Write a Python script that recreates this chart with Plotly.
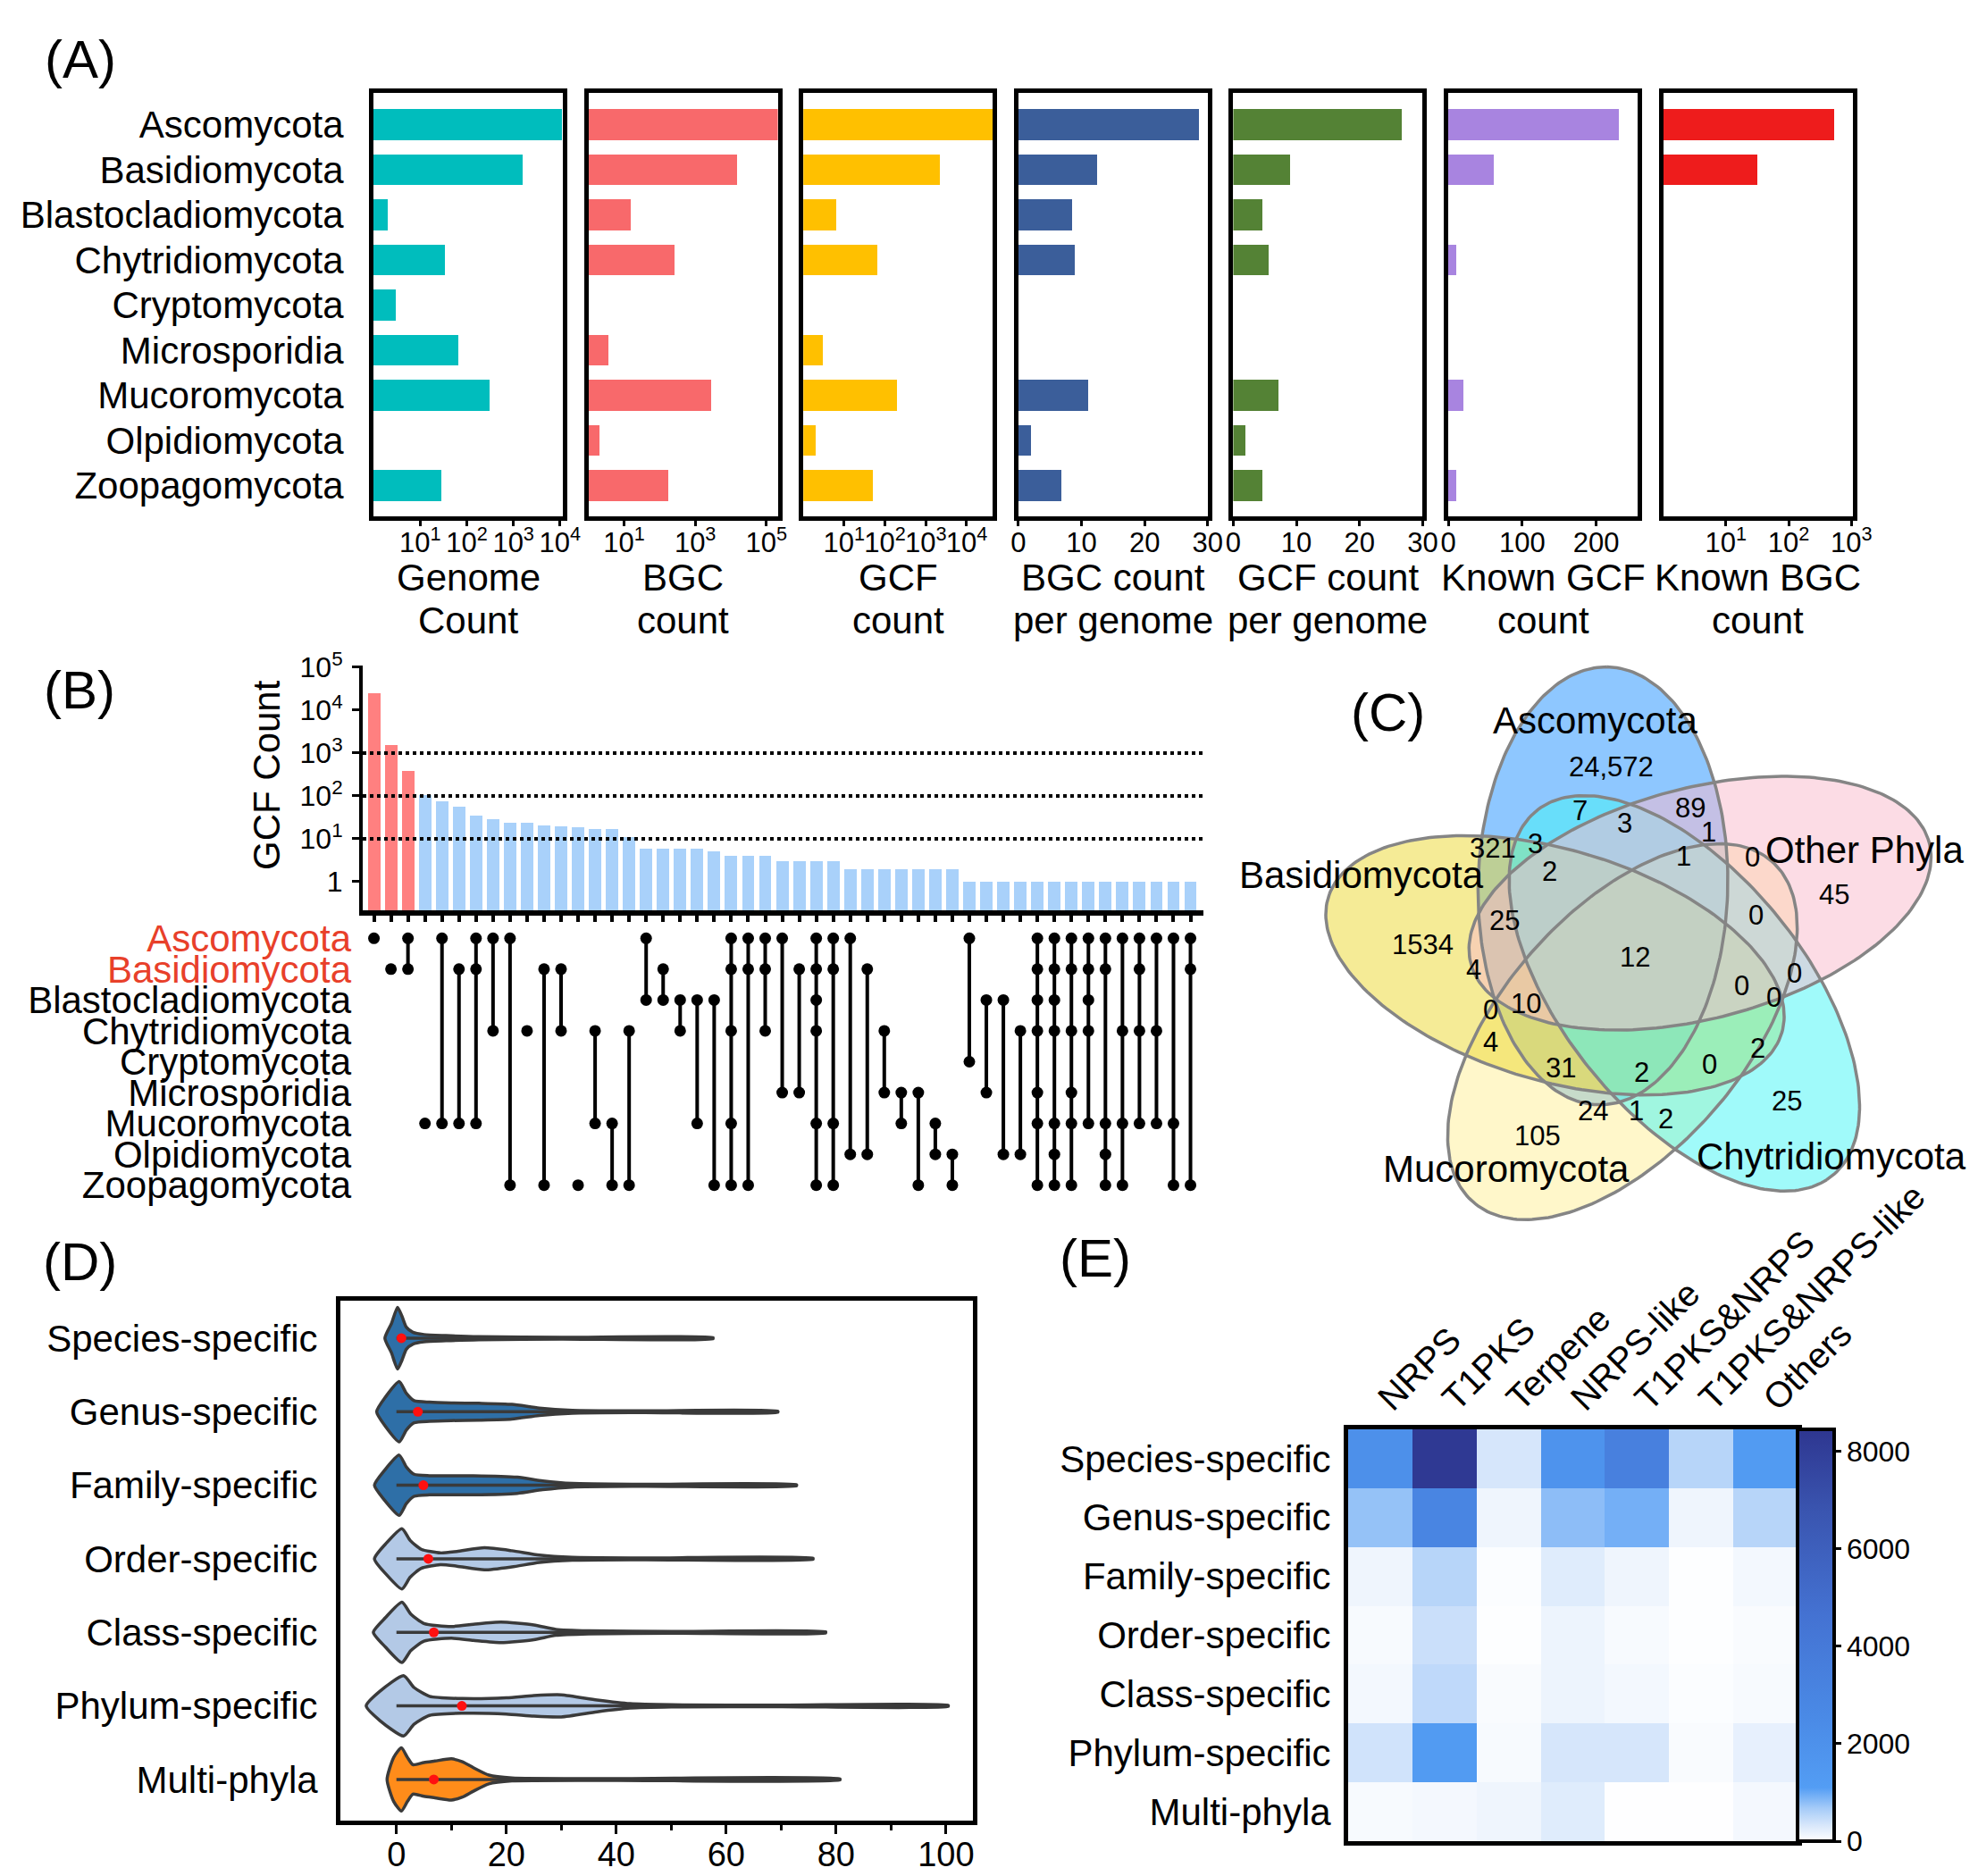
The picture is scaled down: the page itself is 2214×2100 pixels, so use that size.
import numpy as np
import plotly.graph_objects as go

W, H = 2214, 2100
FONT = "Liberation Sans, Arial, sans-serif"

# ---------------- data: panel A ----------------
phyla = ["Ascomycota", "Basidiomycota", "Blastocladiomycota", "Chytridiomycota",
         "Cryptomycota", "Microsporidia", "Mucoromycota", "Olpidiomycota", "Zoopagomycota"]
genome_count = [11000, 1550, 2, 34, 3, 65, 306, 1, 28]
bgc_count = [220000, 15000, 15, 260, None, 3.6, 2700, 2, 170]
gcf_count = [45000, 2200, 6.5, 64, None, 3, 200, 2, 50]
bgc_per_genome = [28.6, 12.4, 8.5, 8.9, 0, 0, 11.0, 2.0, 6.8]
gcf_per_genome = [26.8, 9.1, 4.6, 5.6, 0, 0, 7.2, 2.0, 4.7]
known_gcf_count = [231, 61, 0, 11, 0, 0, 21, 0, 11]
known_bgc_count = [520, 31, None, None, None, None, None, None, None]
a_titles = [["Genome", "Count"], ["BGC", "count"], ["GCF", "count"], ["BGC count", "per genome"],
            ["GCF count", "per genome"], ["Known GCF", "count"], ["Known BGC", "count"]]

# ---------------- data: panel B (upset) ----------------
upset_counts = [24572, 1534, 390, 105, 76, 56, 34, 29, 24, 24, 21, 20, 19, 17, 17, 11,
                6, 6, 6, 6, 5, 4, 4, 4, 3, 3, 3, 3, 2, 2, 2, 2, 2, 2, 2,
                1, 1, 1, 1, 1, 1, 1, 1, 1, 1, 1, 1, 1, 1]
upset_sets = [[0], [1], [0, 1], [6], [0, 6], [1, 6], [0, 1, 6], [0, 3], [0, 8], [3],
              [1, 8], [1, 3], [8], [3, 6], [6, 8], [3, 8], [0, 2], [1, 2], [2, 3], [2, 6],
              [2, 8], [0, 1, 3, 6, 8], [0, 1, 8], [0, 1, 3], [0, 5], [1, 5], [0, 1, 2, 3, 6, 8],
              [0, 1, 6, 8], [0, 7], [1, 7], [3, 5], [5, 6], [5, 8], [6, 7], [7, 8], [0, 4],
              [2, 5], [2, 7], [3, 7], [0, 1, 2, 3, 5, 6, 8], [0, 1, 2, 3, 6, 7, 8],
              [0, 1, 3, 5, 6, 8], [0, 1, 2, 3, 6], [0, 1, 6, 7, 8], [0, 3, 6, 8],
              [0, 1, 3, 6], [0, 3, 6], [0, 6, 8], [0, 1, 8]]
upset_ticks = [1, 10, 100, 1000, 10000, 100000]
upset_ticktext = ["1", "10<sup>1</sup>", "10<sup>2</sup>", "10<sup>3</sup>", "10<sup>4</sup>", "10<sup>5</sup>"]

# ---------------- data: panel C (venn) ----------------
venn_sets = ["Ascomycota", "Other Phyla", "Chytridiomycota", "Mucoromycota", "Basidiomycota"]
venn_counts = ["24,572", "7", "89", "3", "1", "321", "3", "1", "0", "2", "45", "0", "25", "1534",
               "12", "4", "0", "0", "0", "10", "0", "4", "2", "31", "2", "0", "25", "24", "1", "2", "105"]

# ---------------- data: panel D (violin profiles) ----------------
spec_levels = ["Species-specific", "Genus-specific", "Family-specific", "Order-specific",
               "Class-specific", "Phylum-specific", "Multi-phyla"]
species_x = [-2.1, -0.9, 0.2, 1.0, 1.8, 3, 5, 9, 15, 30, 57.6]
species_w = [0, 0.2, 0.42, 0.3, 0.15, 0.08, 0.05, 0.035, 0.02, 0.012, 0.008]
genus_x = [-3.6, -2, 0.5, 1.8, 3.2, 6, 10, 15, 21, 26, 32, 45, 69.4]
genus_w = [0, 0.2, 0.41, 0.25, 0.15, 0.13, 0.12, 0.115, 0.10, 0.05, 0.02, 0.012, 0.008]
family_x = [-4, -2.2, 0.5, 1.8, 3.2, 6, 14, 22, 26.6, 32, 45, 72.8]
family_w = [0, 0.2, 0.41, 0.25, 0.15, 0.13, 0.13, 0.11, 0.06, 0.025, 0.014, 0.008]
order_x = [-4, -2, 1.0, 2.5, 4.5, 8, 11, 16, 21, 26, 32, 45, 75.8]
order_w = [0, 0.2, 0.41, 0.25, 0.13, 0.08, 0.10, 0.15, 0.11, 0.05, 0.02, 0.012, 0.008]
class_x = [-4.2, -2, 1.0, 2.6, 5, 10, 14, 19, 25, 29, 35, 50, 78.1]
class_w = [0, 0.2, 0.41, 0.25, 0.12, 0.08, 0.11, 0.14, 0.10, 0.04, 0.02, 0.012, 0.008]
phylum_x = [-5.5, -3, 1.3, 3.2, 6, 12, 20, 25, 30, 36.5, 42.5, 50, 70, 100.4]
phylum_w = [0, 0.2, 0.41, 0.25, 0.13, 0.10, 0.11, 0.14, 0.15, 0.08, 0.03, 0.015, 0.01, 0.008]
multi_x = [-1.7, -0.5, 0.9, 2, 3, 5, 7, 10, 12, 14, 16.8, 21, 40, 80.7]
multi_w = [0, 0.3, 0.43, 0.3, 0.2, 0.23, 0.25, 0.28, 0.24, 0.16, 0.06, 0.02, 0.012, 0.008]
violin_means = [0.9, 3.9, 4.9, 5.8, 6.8, 11.9, 6.8]

# ---------------- data: panel E (heatmap) ----------------
bgc_classes = ["NRPS", "T1PKS", "Terpene", "NRPS-like", "T1PKS&NRPS", "T1PKS&NRPS-like", "Others"]
hm_species = [2100, 8300, 340, 1850, 3400, 550, 1270]
hm_genus = [760, 2950, 130, 800, 930, 130, 550]
hm_family = [130, 550, 30, 260, 130, 20, 100]
hm_order = [70, 420, 20, 150, 70, 15, 50]
hm_class = [100, 500, 50, 150, 100, 30, 70]
hm_phylum = [380, 1270, 70, 340, 340, 50, 200]
hm_multi = [70, 90, 130, 260, 10, 10, 90]


# ---------------- helpers ----------------
def xdom(a, b):
    return [a / W, b / W]


def ydom(top, bottom):
    return [1 - bottom / H, 1 - top / H]


def frame(**kw):
    d = dict(showline=True, linewidth=5, linecolor="black", mirror=True,
             showgrid=False, zeroline=False)
    d.update(kw)
    return d


fig = go.Figure()
lay = {}
ann = []
LBL = 42


def label(text, x, y, size=LBL, **kw):
    d = dict(text=text, x=x / W, y=1 - y / H, xref="paper", yref="paper",
             xanchor="center", yanchor="middle",
             showarrow=False, font=dict(size=size, color="black", family=FONT))
    d.update(kw)
    ann.append(d)


# ---------------- panel A ----------------
a_series = [genome_count, bgc_count, gcf_count, bgc_per_genome, gcf_per_genome,
            known_gcf_count, known_bgc_count]
a_colors = ["#00BDBD", "#F8696B", "#FFC000", "#3B5E9A", "#548235", "#A884E0", "#EE1C1C"]
a_types = ["log", "log", "log", "linear", "linear", "linear", "log"]
a_ranges = [[0, 4.06], [0, 5.32], [0, 4.64], [0, 30], [0, 30], [0, 256], [0, 3.02]]
sup = lambda p: f"10<sup>{p}</sup>"
a_tickvals = [[10, 100, 1000, 10000], [10, 1000, 100000], [10, 100, 1000, 10000],
              [0, 10, 20, 30], [0, 10, 20, 30], [0, 100, 200], [10, 100, 1000]]
a_ticktext = [[sup(1), sup(2), sup(3), sup(4)], [sup(1), sup(3), sup(5)],
              [sup(1), sup(2), sup(3), sup(4)], ["0", "10", "20", "30"], ["0", "10", "20", "30"],
              ["0", "100", "200"], [sup(1), sup(2), sup(3)]]
A_LEFT, A_STEP, A_W = 418, 240.6, 212
for k in range(7):
    n = k + 1
    xa = "x" if n == 1 else f"x{n}"
    ya = "y" if n == 1 else f"y{n}"
    x0 = A_LEFT + k * A_STEP
    fig.add_trace(go.Bar(x=a_series[k], y=phyla, orientation="h", width=0.68,
                         marker=dict(color=a_colors[k], line_width=0),
                         xaxis=xa, yaxis=ya, showlegend=False))
    lay["xaxis" if n == 1 else f"xaxis{n}"] = frame(
        domain=xdom(x0, x0 + A_W), type=a_types[k], range=a_ranges[k], anchor=ya,
        tickvals=a_tickvals[k], ticktext=a_ticktext[k], ticks="outside", ticklen=6,
        tickwidth=3, tickcolor="black", tickfont=dict(size=31), ticklabelstandoff=-8)
    lay["yaxis" if n == 1 else f"yaxis{n}"] = frame(
        domain=ydom(104, 578), type="category", categoryarray=phyla, categoryorder="array",
        range=[8.68, -0.70], anchor=xa, showticklabels=(k == 0), ticks="",
        tickfont=dict(size=LBL), ticklabelstandoff=20)
    label(a_titles[k][0], x0 + A_W / 2, 646)
    label(a_titles[k][1], x0 + A_W / 2, 695)

# ---------------- panel B ----------------
nb = len(upset_counts)
xb = list(range(nb))
BX = [-0.66, nb - 1 + 0.76]
for lvl in [10, 100, 1000]:
    fig.add_trace(go.Scatter(x=BX, y=[lvl, lvl], mode="lines", xaxis="x8", yaxis="y8",
                             line=dict(color="black", width=4, dash="dot"), showlegend=False))
fig.add_trace(go.Bar(x=xb, y=upset_counts, width=0.73, xaxis="x8", yaxis="y8", showlegend=False,
                     marker=dict(color=["#FF8080"] * 3 + ["#A9D1FA"] * (nb - 3), line_width=0)))
lay["xaxis8"] = dict(domain=xdom(406, 1347), range=BX, anchor="y8", showline=True, linewidth=6,
                     linecolor="black", showgrid=False, zeroline=False, tickvals=xb,
                     showticklabels=False, ticks="outside", ticklen=7, tickwidth=4, tickcolor="black")
lay["yaxis8"] = dict(domain=ydom(745, 1019), type="log", range=[-0.667, 5.04], anchor="x8",
                     showline=True, linewidth=4, linecolor="black", showgrid=False, zeroline=False,
                     tickvals=upset_ticks, ticktext=upset_ticktext, ticks="outside", ticklen=8,
                     tickwidth=3, tickcolor="black", tickfont=dict(size=32), ticklabelstandoff=4)
label("GCF Count", 298, 868, textangle=-90)

lx, ly, dx, dy = [], [], [], []
for i, s in enumerate(upset_sets):
    for r in s:
        dx.append(i)
        dy.append(r)
    if len(s) > 1:
        lx += [i, i, None]
        ly += [min(s), max(s), None]
fig.add_trace(go.Scatter(x=lx, y=ly, mode="lines", xaxis="x9", yaxis="y9", showlegend=False,
                         line=dict(color="black", width=4)))
fig.add_trace(go.Scatter(x=dx, y=dy, mode="markers", xaxis="x9", yaxis="y9", showlegend=False,
                         marker=dict(color="black", size=13, line_width=0)))
red_rows = {0, 1}
lay["xaxis9"] = dict(domain=xdom(406, 1347), range=BX, anchor="y9", visible=False)
lay["yaxis9"] = dict(domain=ydom(1033, 1344), range=[8.5, -0.5], anchor="x9", showline=False,
                     showgrid=False, zeroline=False, ticks="", tickvals=list(range(9)),
                     ticktext=[(f'<span style="color:#E8402A">{p}</span>' if i in red_rows else p)
                               for i, p in enumerate(phyla)],
                     tickfont=dict(size=LBL), ticklabelstandoff=12)

# ---------------- panel C (venn) ----------------
VC = (1834, 1087)
VC_NEW_Y = 1070
SX, SY = 1.035, 0.95
EA, EB, ED = 258, 135, 91
centre_shift = [(0, 0), (0, 0), (-30, 0), (0, 0), (0, 0)]
major_scale = [1, 1, 1.04, 1, 1]
venn_fill = ["rgba(30,144,255,0.5)", "rgba(249,185,203,0.5)", "rgba(65,245,245,0.5)",
             "rgba(255,240,150,0.5)", "rgba(235,215,45,0.5)"]
draw_order = [0, 3, 4, 2, 1]
t = np.linspace(0, 2 * np.pi, 240)
ell = []
for k in range(5):
    cang = np.radians(115 - 72 * k)
    aang = np.radians(89 - 72 * k)
    cx = VC[0] + ED * np.cos(cang) + centre_shift[k][0]
    cy = VC[1] - ED * np.sin(cang) + centre_shift[k][1]
    a = EA * major_scale[k]
    ex = cx + a * np.cos(t) * np.cos(aang) - EB * np.sin(t) * np.sin(aang)
    ey = cy - (a * np.cos(t) * np.sin(aang) + EB * np.sin(t) * np.cos(aang))
    ex = VC[0] + SX * (ex - VC[0])
    ey = VC_NEW_Y + SY * (ey - VC[1])
    ell.append((ex, ey))
for k in draw_order:
    fig.add_trace(go.Scatter(x=ell[k][0], y=ell[k][1], mode="lines", fill="toself",
                             fillcolor=venn_fill[k], line=dict(width=0), xaxis="x10", yaxis="y10",
                             showlegend=False))
for k in draw_order:
    fig.add_trace(go.Scatter(x=ell[k][0], y=ell[k][1], mode="lines",
                             line=dict(color="#858585", width=3.5), xaxis="x10", yaxis="y10",
                             showlegend=False))
lay["xaxis10"] = dict(domain=xdom(1380, 2214), range=[1380, 2214], visible=False, anchor="y10")
lay["yaxis10"] = dict(domain=ydom(720, 1420), range=[1420, 720], visible=False, anchor="x10")
venn_pos = [(1803, 858), (1768, 908), (1892, 904), (1818, 922), (1912, 931), (1671, 949),
            (1718, 944), (1884, 958), (1961, 960), (1734, 976), (2053, 1001), (1965, 1024),
            (1684, 1030), (1592, 1057), (1830, 1071), (1650, 1085), (2008, 1089), (1949, 1103),
            (1985, 1116), (1708, 1123), (1668, 1130), (1668, 1166), (1967, 1173), (1747, 1195),
            (1837, 1200), (1913, 1191), (2000, 1232), (1783, 1243), (1831, 1243), (1864, 1252),
            (1721, 1271)]
for txt, (px, py) in zip(venn_counts, venn_pos):
    label(txt, px, py, size=31)
venn_label_pos = [(1785, 806), (2087, 951), (2050, 1294), (1686, 1308), (1524, 979)]
for txt, (px, py) in zip(venn_sets, venn_label_pos):
    label(txt, px, py)

# ---------------- panel D (violins) ----------------
prof = [(species_x, species_w), (genus_x, genus_w), (family_x, family_w), (order_x, order_w),
        (class_x, class_w), (phylum_x, phylum_w), (multi_x, multi_w)]
v_colors = ["#2E6FA7", "#2E6FA7", "#2E6FA7", "#B3C9E6", "#B3C9E6", "#B3C9E6", "#FF8C1A"]
for i, (vx, vw) in enumerate(prof):
    px_ = list(vx) + list(vx[::-1])
    py_ = [i - w for w in vw] + [i + w for w in vw[::-1]]
    fig.add_trace(go.Scatter(x=px_, y=py_, mode="lines", fill="toself", fillcolor=v_colors[i],
                             line=dict(color="#3A3A3A", width=3.5, shape="spline", smoothing=0.6),
                             xaxis="x11", yaxis="y11", showlegend=False))
    fig.add_trace(go.Scatter(x=[0, vx[-1]], y=[i, i], mode="lines", xaxis="x11", yaxis="y11",
                             line=dict(color="#3A3A3A", width=3.5), showlegend=False))
fig.add_trace(go.Scatter(x=violin_means, y=list(range(7)), mode="markers", xaxis="x11", yaxis="y11",
                         marker=dict(color="#FF1010", size=11, line_width=0), showlegend=False))
lay["xaxis11"] = frame(domain=xdom(381, 1089), range=[-10.2, 104.9], anchor="y11",
                       tickvals=[0, 20, 40, 60, 80, 100], ticks="outside", ticklen=10, tickwidth=3,
                       tickcolor="black", tickfont=dict(size=38), ticklabelstandoff=-10,
                       minor=dict(tickvals=[10, 30, 50, 70, 90], ticks="outside", ticklen=6,
                                  tickwidth=3, tickcolor="black"))
lay["yaxis11"] = frame(domain=ydom(1456, 2038), range=[6.56, -0.51], anchor="x11",
                       tickvals=list(range(7)), ticktext=spec_levels, ticks="",
                       tickfont=dict(size=LBL), ticklabelstandoff=12)

# ---------------- panel E (heatmap) ----------------
hm_z = [hm_species, hm_genus, hm_family, hm_order, hm_class, hm_phylum, hm_multi]
cscale = [[0, "#FFFFFF"], [0.04, "#D6E6FB"], [0.08, "#A5CBF8"], [0.13, "#539DF4"],
          [0.3, "#4A8AE6"], [0.55, "#4472D2"], [0.8, "#3A55B0"], [1, "#2E3690"]]
fig.add_trace(go.Heatmap(z=hm_z, x=bgc_classes, y=spec_levels, xaxis="x12", yaxis="y12",
                         colorscale=cscale, zmin=0, zmax=8450,
                         colorbar=dict(x=2012 / W, xanchor="left", y=1 - 2061 / H, yanchor="bottom",
                                       len=461 / H, lenmode="fraction", thickness=41,
                                       thicknessmode="pixels", outlinewidth=4, outlinecolor="black",
                                       xpad=0, ypad=0, tickvals=[0, 2000, 4000, 6000, 8000],
                                       ticks="outside", ticklen=6, tickwidth=3, tickcolor="black",
                                       tickfont=dict(size=32, family=FONT, color="black"))))
lay["xaxis12"] = frame(domain=xdom(1509, 2012), anchor="y12", side="top", tickangle=-45,
                       tickfont=dict(size=40), ticks="", ticklabelstandoff=-8)
lay["yaxis12"] = frame(domain=ydom(1600, 2061), anchor="x12", autorange="reversed",
                       tickfont=dict(size=LBL), ticks="", ticklabelstandoff=6)

# no automatic margin growth, no automatic label rotation
for key, ax in lay.items():
    ax["automargin"] = False
    if key != "xaxis12":
        ax["tickangle"] = 0

# ---------------- panel labels ----------------
for txt, (px, py) in zip(["(A)", "(B)", "(C)", "(D)", "(E)"],
                         [(90, 66), (89, 773), (1553, 797), (89, 1412), (1226, 1408)]):
    label(txt, px, py, size=60)

fig.update_layout(width=W, height=H, autosize=False, margin=dict(l=0, r=0, t=0, b=0, pad=0),
                  paper_bgcolor="white", plot_bgcolor="rgba(0,0,0,0)", showlegend=False,
                  font=dict(family=FONT, color="black"), annotations=ann, bargap=0, **lay)

fig.write_html("out.html", config={"displayModeBar": False},
               post_script="document.body.style.margin='0';")
